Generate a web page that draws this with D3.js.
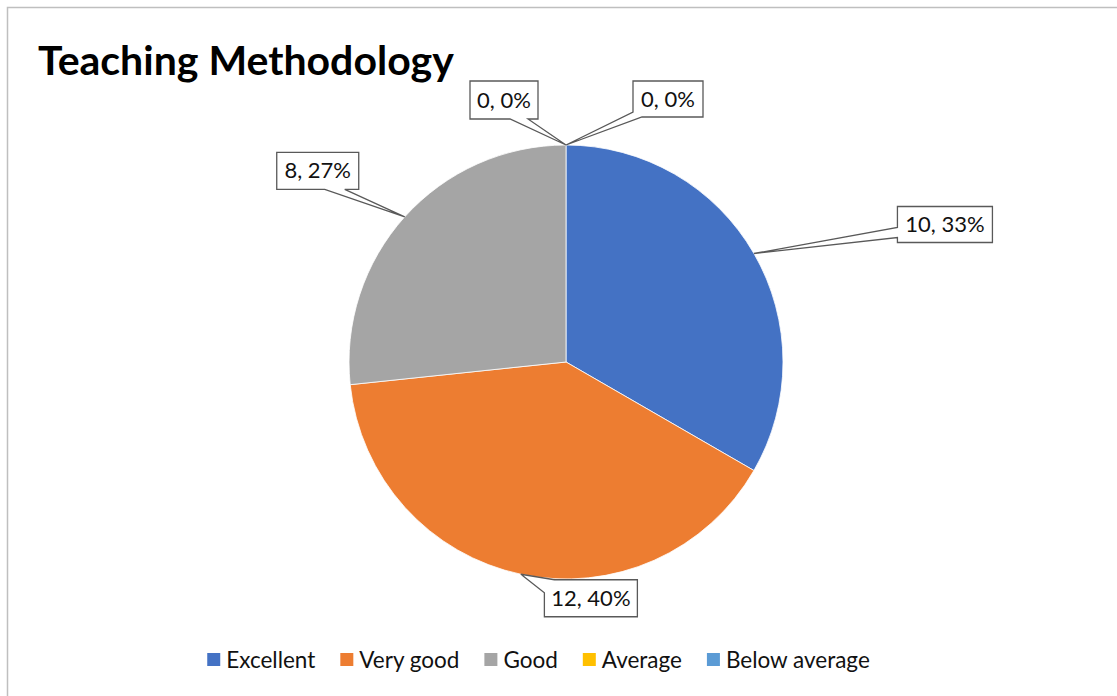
<!DOCTYPE html>
<html>
<head>
<meta charset="utf-8">
<script src="https://cdn.jsdelivr.net/npm/d3@7"></script>
<style>
  body { margin: 0; background: #fff; }
  svg { display: block; font-family: Lato, "Open Sans", "Liberation Sans", sans-serif; }
</style>
</head>
<body>
<svg width="1117" height="696"></svg>
<script>
// data
const categories = ["Excellent", "Very good", "Good", "Average", "Below average"];
const counts = [10, 12, 8, 0, 0];
const colors = ["#4472C4", "#ED7D31", "#A5A5A5", "#FFC000", "#5B9BD5"];

// callout layout: box centre offset from the slice edge, box size, tail span on box perimeter
const calloutOffsets = [[191, -29], [70, 24], [-87, -46], [-62, -45], [102, -46]];
const calloutSizes = [[95, 36], [93, 37], [82, 37], [68, 38], [70, 36]];
const tailSpans = [[231, 241], [247, 10], [133, 153], [116, 134], [167, 181]];

const svg = d3.select("svg");
const width = 1117, height = 696;
const cx = 566, cy = 362, radius = 217;

// chart border
svg.append("rect")
  .attr("x", 7.5).attr("y", 7.5)
  .attr("width", width + 20).attr("height", height + 20)
  .attr("fill", "#fff")
  .attr("stroke", "#bfbfbf")
  .attr("stroke-width", 1.5);

svg.append("text")
  .attr("x", 38).attr("y", 75)
  .attr("font-size", 41)
  .attr("font-weight", "bold")
  .attr("fill", "#000")
  .text("Teaching Methodology");

const dataset = categories.map((c, i) => ({ name: c, count: counts[i], color: colors[i], i: i }));
const total = d3.sum(counts);

const pie = d3.pie().value(d => d.count).sort(null);
const arcs = pie(dataset);

const arc = d3.arc().innerRadius(0).outerRadius(radius);
const edge = d3.arc().innerRadius(radius).outerRadius(radius);

const g = svg.append("g").attr("transform", "translate(" + cx + "," + cy + ")");

g.selectAll("path.slice")
  .data(arcs.filter(d => d.data.count > 0))
  .enter()
  .append("path")
  .attr("class", "slice")
  .attr("d", arc)
  .attr("fill", d => d.data.color)
  .attr("stroke", "#fff")
  .attr("stroke-width", 0.8);

// callout path: box outline walked clockwise with a wedge tail to the anchor
function calloutPath(x0, y0, w, h, span, ax, ay) {
  const P = 2 * (w + h);
  const pt = s => {
    s = ((s % P) + P) % P;
    if (s <= w) return [x0 + s, y0];
    if (s <= w + h) return [x0 + w, y0 + (s - w)];
    if (s <= 2 * w + h) return [x0 + w - (s - w - h), y0 + h];
    return [x0, y0 + h - (s - 2 * w - h)];
  };
  let a = span[0], b = span[1];
  let end = a < b ? a + P : a;
  const corners = [0, w, w + h, 2 * w + h, P, P + w, P + w + h, P + 2 * w + h];
  const pts = [pt(b)];
  corners.forEach(c => { if (c > b && c < end) pts.push(pt(c)); });
  pts.push(pt(end));
  pts.push([ax, ay]);
  return "M" + pts.map(p => p[0] + "," + p[1]).join("L") + "Z";
}

const labels = svg.append("g");
arcs.forEach(d => {
  const i = d.data.i;
  const c = edge.centroid(d);
  const ax = cx + c[0], ay = cy + c[1];
  const w = calloutSizes[i][0], h = calloutSizes[i][1];
  const bx = ax + calloutOffsets[i][0] - w / 2;
  const by = ay + calloutOffsets[i][1] - h / 2;
  labels.append("path")
    .attr("d", calloutPath(bx, by, w, h, tailSpans[i], ax, ay))
    .attr("fill", "#fff")
    .attr("stroke", "#595959")
    .attr("stroke-width", 1.3)
    .attr("stroke-linejoin", "miter");
  labels.append("text")
    .attr("x", bx + w / 2)
    .attr("y", by + h / 2)
    .attr("dy", "0.35em")
    .attr("text-anchor", "middle")
    .attr("font-size", 22)
    .attr("fill", "#111")
    .text(d.data.count + ", " + Math.round(d.data.count / total * 100) + "%");
});

// legend
const legend = svg.append("g");
let lx = 0;
dataset.forEach(d => {
  const it = legend.append("g");
  it.append("rect").attr("x", 0).attr("y", -7).attr("width", 13).attr("height", 13).attr("fill", d.color);
  const t = it.append("text").attr("x", 19).attr("dy", "0.35em").attr("font-size", 22.5).attr("fill", "#111").text(d.name);
  const tw = t.node().getComputedTextLength();
  it.attr("transform", "translate(" + lx + ",0)");
  lx += 19 + tw + 25;
});
lx -= 25;
legend.attr("transform", "translate(" + (538.5 - lx / 2) + ",660)");
</script>
</body>
</html>
